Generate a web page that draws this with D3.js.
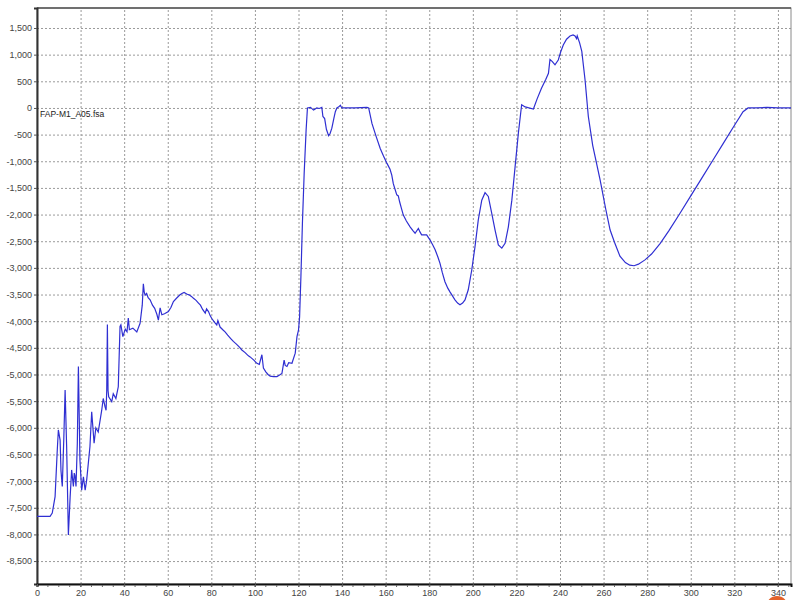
<!DOCTYPE html>
<html>
<head>
<meta charset="utf-8">
<script src="https://cdn.jsdelivr.net/npm/d3@7"></script>
<style>
  body { margin: 0; background: #fff; }
  text { font-family: "Liberation Sans", Arial, sans-serif; }
</style>
</head>
<body>
<script>
// scan numbers (x) and signal (y)
var scan = [0, 6, 7, 8.3, 9.3, 9.8, 10.6, 11.0, 11.6, 12.3, 12.9, 13.6, 14.4, 15.2, 15.9, 16.3, 16.7, 17.1, 17.4, 17.9,
  18.5, 19.0, 19.7, 20.5, 21.3, 22.1, 22.8, 24.3, 25.1, 26.2, 27.0, 28.1, 29.7, 30.4, 31.2, 31.7, 32.0, 32.3, 32.6, 32.9,
  34.3, 35.0, 36.2, 37.3, 38.1, 38.5, 39.4, 40.5, 41.3, 41.9, 42.4, 44.0, 45.8, 47.3, 48.3, 48.8, 49.2, 49.6, 50.3, 51.0,
  51.9, 53.0, 54.0, 55.0, 55.7, 56.5, 57.3, 58.5, 60.3, 61.5, 62.6, 64.0, 65.5, 66.5, 67.5, 68.7, 70.0, 71.0, 71.8, 73.0,
  74.1, 75.0, 76.0, 77.2, 77.8, 78.7, 79.5, 80.2, 81.5, 82.5, 83.0, 84.0, 85.5, 86.3, 87.5, 89.0, 90.1, 91.5, 93.0, 94.0,
  95.5, 97.0, 97.8, 99.5, 100.9, 102.0, 103.2, 103.9, 105.0, 106.0, 107.0, 108.5, 110.1, 111.3, 112.4, 113.4, 113.9, 114.7, 115.5, 117.0,
  118.5, 119.3, 120.0, 120.5, 121.1, 121.8, 122.6, 123.5, 124.1, 125.5, 126.9, 128.4, 129.5, 130.7, 131.2, 132.0, 132.8, 133.8, 134.5, 135.3,
  136.2, 136.9, 137.6, 138.5, 139.2, 139.9, 142.2, 146, 151.4, 152.2, 153.7, 155.5, 157.5, 159.0, 160.6, 162.0, 162.8, 163.5, 164.4, 165.1,
  165.8, 166.4, 167.2, 168.1, 169.5, 171.2, 172.5, 173.5, 175.0, 175.8, 176.5, 178.8, 180.4, 181.5, 182.7, 184.0, 184.9, 186.0, 187.2, 188.5,
  189.5, 191.8, 193.0, 194.1, 195.3, 196.4, 197.9, 199.5, 201.0, 202.5, 204.1, 205.6, 207.1, 208.7, 210.2, 211.7, 213.3, 214.8, 216.3, 217.9,
  219.4, 220.9, 222.4, 224, 227.8, 229.5, 231.5, 233.5, 234.7, 235.4, 236.5, 237.7, 239.2, 240.3, 241.5, 243, 244.6, 246.0, 246.9, 247.6,
  247.9, 249.0, 250.0, 251.5, 253.0, 255, 258.4, 261, 263, 265, 267.5, 270, 272, 274, 276, 279, 282, 286, 290, 295,
  300, 305, 310, 315, 320, 324, 326.3, 330, 335, 340, 346];
var signal = [-7660, -7660, -7600, -7290, -6420, -6040, -6230, -6800, -7100, -6200, -5290, -6350, -8010, -7300, -6790, -6950, -7100, -6850, -6890, -7100,
  -6300, -4850, -6600, -7170, -6920, -7170, -6980, -6350, -5700, -6290, -6000, -6080, -5670, -5450, -5600, -5670, -5300, -4060, -5300, -5420,
  -5510, -5360, -5450, -5230, -4100, -4070, -4290, -4150, -4200, -3940, -4160, -4130, -4200, -4040, -3700, -3300, -3450, -3510, -3480, -3560,
  -3600, -3700, -3760, -3870, -3980, -3750, -3880, -3860, -3820, -3740, -3630, -3570, -3510, -3480, -3460, -3490, -3510, -3540, -3570, -3610,
  -3660, -3700, -3780, -3850, -3770, -3820, -3900, -3950, -4020, -4070, -3990, -4110, -4170, -4200, -4260, -4330, -4380, -4430, -4490, -4540,
  -4590, -4650, -4670, -4730, -4790, -4810, -4630, -4880, -4950, -5000, -5030, -5040, -5040, -5010, -4980, -4730, -4830, -4850, -4780, -4790,
  -4600, -4290, -4170, -3920, -3170, -2160, -1230, -410, 0, 10, -40, 0, -10, 10, -160, -200, -400, -520, -480, -380,
  -200, -70, 0, 20, 50, 0, 0, 0, 10, 0, -290, -520, -760, -900, -1040, -1150, -1260, -1420, -1540, -1630,
  -1650, -1760, -1880, -2010, -2120, -2230, -2300, -2350, -2260, -2330, -2380, -2380, -2480, -2560, -2660, -2800, -2910, -3090, -3260, -3380,
  -3450, -3600, -3660, -3690, -3660, -3600, -3410, -3040, -2600, -2100, -1730, -1590, -1660, -1980, -2290, -2570, -2630, -2540, -2230, -1730,
  -1100, -470, 60, 20, -20, 170, 370, 540, 650, 910, 870, 810, 900, 1050, 1180, 1290, 1350, 1370, 1350, 1300,
  1350, 1220, 1060, 525, -160, -700, -1350, -1900, -2290, -2520, -2780, -2900, -2950, -2960, -2930, -2850, -2740, -2540, -2300, -1980,
  -1650, -1320, -990, -660, -330, -70, 0, 0, 10, 0, 0];

var xTicks = d3.range(0, 341, 20);
var xMinor = d3.range(0, 346, 5);
var yTicks = d3.range(-8500, 1501, 500);
var sampleName = "FAP-M1_A05.fsa";

var width = 800,
    height = 600;
var plotL = 37, plotR = 791, plotT = 8, plotB = 584;

var svg = d3.select('body')
  .append('svg')
  .attr('width', width)
  .attr('height', height);

var x = d3.scaleLinear().domain([0, 346]).range([plotL, plotR]);
var y = d3.scaleLinear().domain([-8930, 1875]).range([plotB, plotT]);

var fmt = d3.formatLocale({decimal: ".", thousands: ",", grouping: [3], currency: ["", ""], minus: "-"}).format(",");

// grid
svg.append('g')
  .attr('transform', 'translate(0,' + plotB + ')')
  .call(d3.axisBottom(x).tickValues(xTicks.slice(1)).tickSize(-(plotB - plotT)).tickFormat(''))
  .call(function(g) { g.select('.domain').remove(); })
  .selectAll('line')
  .attr('stroke', '#9a9a9a')
  .attr('stroke-dasharray', '2,2');

svg.append('g')
  .attr('transform', 'translate(' + plotL + ',0)')
  .call(d3.axisLeft(y).tickValues(yTicks).tickSize(-(plotR - plotL)).tickFormat(''))
  .call(function(g) { g.select('.domain').remove(); })
  .selectAll('line')
  .attr('stroke', '#9a9a9a')
  .attr('stroke-dasharray', '2,2');

// frame
svg.append('rect')
  .attr('x', plotL).attr('y', plotT)
  .attr('width', plotR - plotL).attr('height', plotB - plotT)
  .attr('fill', 'none')
  .attr('stroke', '#8a8a8a')
  .attr('stroke-width', 1);
svg.append('line').attr('x1', plotL).attr('x2', plotR).attr('y1', plotT).attr('y2', plotT)
  .attr('stroke', '#555').attr('stroke-width', 1.5);

// axes
var yAxis = svg.append('g')
  .attr('transform', 'translate(' + plotL + ',0)')
  .call(d3.axisLeft(y).tickValues(yTicks).tickSize(3).tickPadding(2).tickFormat(fmt));
yAxis.select('.domain').attr('stroke', '#333').attr('stroke-width', 2);
yAxis.selectAll('line').attr('stroke', '#555');
yAxis.selectAll('text').attr('fill', '#444').style('font-size', '9px');

var xAxis = svg.append('g')
  .attr('transform', 'translate(0,' + plotB + ')')
  .call(d3.axisBottom(x).tickValues(xTicks).tickSize(3).tickPadding(3).tickFormat(d3.format('d')));
xAxis.select('.domain').attr('stroke', '#111').attr('stroke-width', 2);
xAxis.selectAll('line').attr('stroke', '#555');
xAxis.selectAll('text').attr('fill', '#444').style('font-size', '9px');

svg.append('g')
  .selectAll('line')
  .data(xMinor)
  .enter()
  .append('line')
  .attr('x1', function(d) { return x(d); })
  .attr('x2', function(d) { return x(d); })
  .attr('y1', plotB + 1)
  .attr('y2', plotB + 3)
  .attr('stroke', '#666');

// trace
svg.append('clipPath').attr('id', 'plotclip')
  .append('rect').attr('x', plotL).attr('y', plotT).attr('width', plotR - plotL).attr('height', plotB - plotT);

var line = d3.line()
  .x(function(d) { return x(d[0]); })
  .y(function(d) { return y(d[1]); });

svg.append('path')
  .datum(d3.zip(scan, signal))
  .attr('clip-path', 'url(#plotclip)')
  .attr('fill', 'none')
  .attr('stroke', '#2f2fd2')
  .attr('stroke-width', 1.2)
  .attr('d', line);

svg.append('text')
  .attr('x', plotL + 3)
  .attr('y', y(0) + 9)
  .attr('fill', '#222')
  .style('font-size', '8.5px')
  .text(sampleName);

// corner badge
svg.append('circle')
  .attr('cx', 777).attr('cy', 607).attr('r', 11)
  .attr('fill', '#e4622a');
</script>
</body>
</html>
